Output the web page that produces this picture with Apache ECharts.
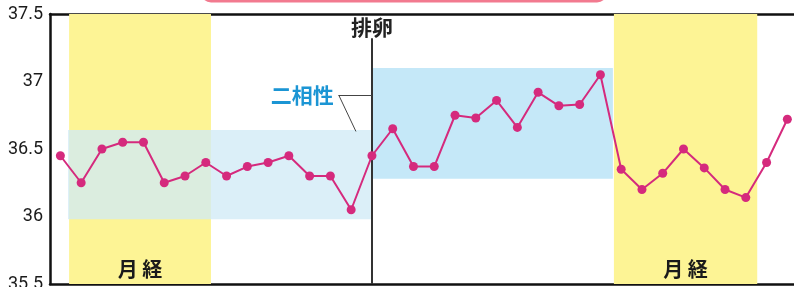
<!DOCTYPE html>
<html>
<head>
<meta charset="utf-8">
<script src="https://cdn.jsdelivr.net/npm/echarts@6/dist/echarts.min.js"></script>
<style>
  html, body { margin: 0; padding: 0; background: #fff; }
  #chart { width: 794px; height: 287px; }
</style>
</head>
<body>
<div id="chart"></div>
<script>
// 基礎体温 (day index -> temperature)
const days = [0, 1, 2, 3, 4, 5, 6, 7, 8, 9, 10, 11, 12, 13, 14, 15, 16, 17,
  18, 19, 20, 21, 22, 23, 24, 25, 26, 27, 28, 29, 30, 31, 32, 33, 34, 35]
const temps = [36.45, 36.25, 36.5, 36.55, 36.55, 36.25, 36.3, 36.4, 36.3, 36.37,
  36.4, 36.45, 36.3, 36.3, 36.05, 36.45, 36.65, 36.37, 36.37, 36.75,
  36.73, 36.86, 36.66, 36.92, 36.82, 36.83, 37.05, 36.35, 36.2, 36.32,
  36.5, 36.36, 36.2, 36.14, 36.4, 36.72]
const yTicks = [35.5, 36, 36.5, 37, 37.5]

// 月経 bands [from, to] in day units
const mensBands = [[0.42, 7.25], [26.65, 33.55]]
// 二相性 boxes [fromDay, toDay, lowTemp, highTemp]
const lowPhase = [0.37, 14.95, 35.98, 36.64]
const highPhase = [15.0, 26.6, 36.28, 37.1]
const ovulationDay = 15.0
const ovulationTop = 37.32
// 二相性 callout
const calloutFrom = [13.4, 36.9]
const calloutTo = [[15.0, 36.9], [14.23, 36.63]]

const seriesData = days.map((d, i) => [d, temps[i]])

const chart = echarts.init(document.getElementById('chart'))

const option = {
  animation: false,
  grid: { left: 50, right: 0, top: 14, bottom: 3, outerBoundsMode: 'none', containLabel: false },
  graphic: [
    {
      type: 'rect',
      shape: { x: 201, y: -20, width: 406, height: 22.5, r: 10 },
      style: { fill: '#f27a8f' }
    }
  ],
  xAxis: [
    {
      type: 'value',
      min: -0.5,
      max: 35.32,
      axisLine: { show: true, onZero: false, lineStyle: { color: '#111', width: 2.5 } },
      axisTick: { show: false },
      axisLabel: { show: false },
      splitLine: { show: false }
    },
    {
      type: 'value',
      position: 'top',
      min: -0.5,
      max: 35.32,
      axisLine: { show: true, onZero: false, lineStyle: { color: '#111', width: 2.5 } },
      axisTick: { show: false },
      axisLabel: { show: false },
      splitLine: { show: false }
    }
  ],
  yAxis: {
    type: 'value',
    min: yTicks[0],
    max: yTicks[yTicks.length - 1],
    interval: 0.5,
    axisLine: { show: true, onZero: false, lineStyle: { color: '#111', width: 2.5 } },
    axisTick: { show: false },
    splitLine: { show: false },
    axisLabel: {
      color: '#1a1a1a',
      fontSize: 18,
      fontFamily: 'Roboto',
      margin: 7
    }
  },
  series: [
    {
      // 月経
      type: 'line',
      data: [],
      z: 1,
      markArea: {
        silent: true,
        itemStyle: { color: '#fdf495' },
        label: {
          show: true,
          position: 'insideBottom',
          distance: 5,
          color: '#1a1a1a',
          fontSize: 20,
          fontWeight: 'bold',
          fontFamily: 'Noto Sans CJK JP',
          formatter: '月 経'
        },
        data: mensBands.map(b => [{ xAxis: b[0] }, { xAxis: b[1] }])
      }
    },
    {
      // 低温期 / 高温期
      type: 'line',
      data: [],
      z: 2,
      markArea: {
        silent: true,
        data: [
          [
            { coord: [lowPhase[0], lowPhase[3]], itemStyle: { color: 'rgba(208,234,246,0.77)' } },
            { coord: [lowPhase[1], lowPhase[2]] }
          ],
          [
            { coord: [highPhase[0], highPhase[3]], itemStyle: { color: '#c5e8f8' } },
            { coord: [highPhase[1], highPhase[2]] }
          ]
        ]
      }
    },
    {
      // 排卵 / 二相性
      type: 'line',
      data: [],
      z: 3,
      markLine: {
        silent: true,
        symbol: ['none', 'none'],
        data: [
          [
            {
              coord: [ovulationDay, ovulationTop],
              lineStyle: { color: '#333', width: 2, type: 'solid' },
              label: {
                show: true,
                position: 'start',
                distance: 1,
                formatter: '排卵',
                color: '#222',
                fontSize: 21,
                fontWeight: 'bold',
                fontFamily: 'Noto Sans CJK JP'
              }
            },
            { coord: [ovulationDay, yTicks[0]] }
          ],
          [
            {
              coord: calloutFrom,
              lineStyle: { color: '#444', width: 1, type: 'solid' },
              label: {
                show: true,
                position: 'start',
                distance: 5,
                formatter: '二相性',
                color: '#1b95d4',
                fontSize: 21,
                fontWeight: 'bold',
                fontFamily: 'Noto Sans CJK JP'
              }
            },
            { coord: calloutTo[0] }
          ],
          [
            {
              coord: calloutFrom,
              lineStyle: { color: '#444', width: 1, type: 'solid' },
              label: { show: false }
            },
            { coord: calloutTo[1] }
          ]
        ]
      }
    },
    {
      name: '体温',
      type: 'line',
      z: 5,
      data: seriesData,
      symbol: 'circle',
      symbolSize: 9,
      lineStyle: { color: '#d52a7d', width: 2 },
      itemStyle: { color: '#d52a7d' }
    }
  ]
}

chart.setOption(option)
</script>
</body>
</html>
